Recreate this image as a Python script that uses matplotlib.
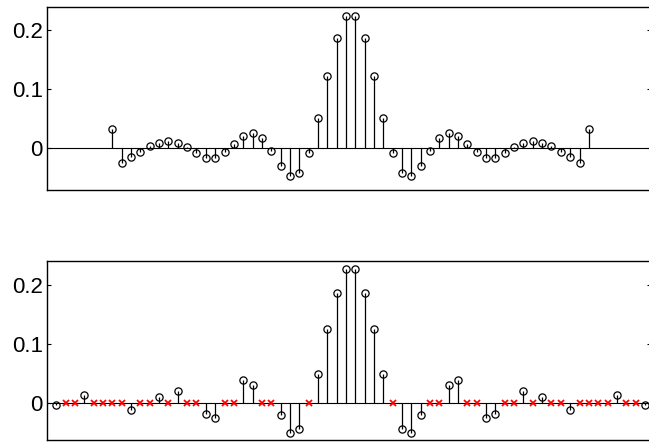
import numpy as np
import matplotlib
matplotlib.use('Agg')
import matplotlib.pyplot as plt

plt.rcParams['font.family'] = ['Liberation Sans', 'DejaVu Sans']

# top: 52-tap filter (placed at samples 6..57 of a 64 sample frame)
top_h = [0.0315, -0.0253, -0.0152, -0.0067, 0.0028, 0.0090, 0.0124, 0.0090,
         0.0010, -0.0090, -0.0163, -0.0163, -0.0073, 0.0073, 0.0213, 0.0264,
         0.0174, -0.0045, -0.0298, -0.0472, -0.0421, -0.0079, 0.0506, 0.1220,
         0.1860, 0.2240,
         0.2240, 0.1860, 0.1220, 0.0506, -0.0079, -0.0421, -0.0472, -0.0298,
         -0.0045, 0.0174, 0.0264, 0.0213, 0.0073, -0.0073, -0.0163, -0.0163,
         -0.0090, 0.0010, 0.0090, 0.0124, 0.0090, 0.0028, -0.0067, -0.0152,
         -0.0253, 0.0315]
top_start = 6

# bottom: 64-tap sparse filter, zeros are marked with red crosses
bot_h = [-0.0045, 0, 0, 0.0135, 0, 0, 0, 0, -0.0130, 0, 0, 0.0096, 0, 0.0197,
         0, 0, -0.0186, -0.0260, 0, 0, 0.0383, 0.0293, 0, 0, -0.0214, -0.0513,
         -0.0445, 0, 0.0479, 0.1245, 0.1865, 0.2260,
         0.2260, 0.1865, 0.1245, 0.0479, 0, -0.0445, -0.0513, -0.0214, 0, 0,
         0.0293, 0.0383, 0, 0, -0.0260, -0.0186, 0, 0, 0.0197, 0, 0.0096, 0,
         0, -0.0130, 0, 0, 0, 0, 0.0135, 0, 0, -0.0045]

yticks = [0, 0.1, 0.2]
yticklabels = ['0', '0.1', '0.2']

fig = plt.figure(figsize=(6.49, 4.44), dpi=100)
W, H = 649.0, 444.0
xl, xr = 47.0, 650.5
ax1 = fig.add_axes([xl / W, (H - 190) / H, (xr - xl) / W, 183 / H])
ax2 = fig.add_axes([xl / W, (H - 440) / H, (xr - xl) / W, 179 / H])


def style(ax, ylim):
    ax.set_xlim(-1, 63.6)
    ax.set_ylim(*ylim)
    ax.set_xticks([])
    ax.set_yticks(yticks)
    ax.set_yticklabels(yticklabels)
    ax.tick_params(axis='y', direction='in', length=3, width=0.8,
                   right=True, labelsize=16, pad=3)
    for s in ax.spines.values():
        s.set_linewidth(1.0)
    ax.axhline(0, color='black', lw=0.8, zorder=1)


def draw_stem(ax, n, h):
    ml, sl, bl = ax.stem(n, h, linefmt='k-', markerfmt='ko', basefmt=' ')
    plt.setp(sl, linewidth=0.9)
    plt.setp(ml, markersize=5.2, markerfacecolor='none',
             markeredgecolor='black', markeredgewidth=0.9)


# top plot
n_top = np.arange(top_start, top_start + len(top_h))
draw_stem(ax1, n_top, top_h)
style(ax1, (-0.071, 0.239))

# bottom plot
bot = np.array(bot_h)
n_bot = np.arange(len(bot))
nz = bot != 0
draw_stem(ax2, n_bot[nz], bot[nz])
ax2.plot(n_bot[~nz], bot[~nz], 'x', color='red', markersize=4,
         markeredgewidth=1.3, zorder=3)
style(ax2, (-0.063, 0.240))

fig.savefig('out.png', dpi=100)
